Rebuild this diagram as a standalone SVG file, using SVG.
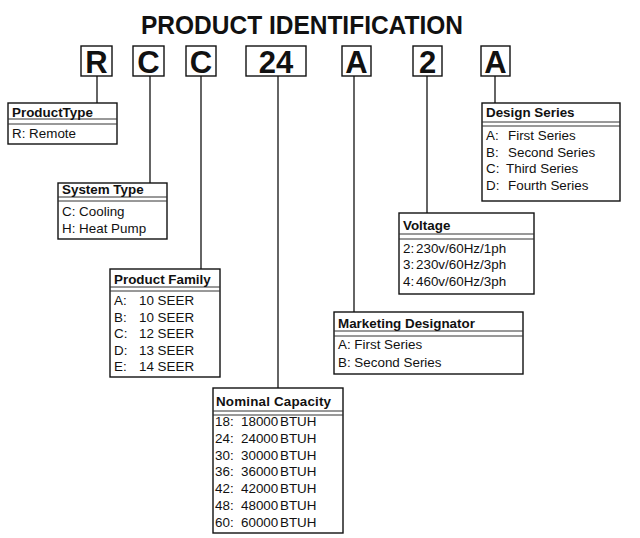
<svg xmlns="http://www.w3.org/2000/svg" width="640" height="538" viewBox="0 0 640 538">
<style>
.box{fill:#fff;stroke:#111;stroke-width:1.4}
.sep{stroke:#333;stroke-width:1}
.con{stroke:#111;stroke-width:1.3;fill:none}
.h{font-family:"Liberation Sans",Arial,sans-serif;font-weight:bold;font-size:13.4px;fill:#111}
.t{font-family:"Liberation Sans",Arial,sans-serif;font-size:13.4px;fill:#111}
.big{font-family:"Liberation Sans",Arial,sans-serif;font-weight:bold;font-size:31px;fill:#111;text-anchor:middle}
.title{font-family:"Liberation Sans",Arial,sans-serif;font-weight:bold;font-size:26px;fill:#111;text-anchor:middle}
</style>
<rect width="640" height="538" fill="#fff"/>
<text class="title" x="302" y="33.5" textLength="322" lengthAdjust="spacingAndGlyphs">PRODUCT IDENTIFICATION</text>

<g id="connectors">
<line class="con" x1="97" y1="76" x2="97" y2="103"/>
<line class="con" x1="150" y1="76" x2="150" y2="183"/>
<line class="con" x1="201" y1="76" x2="201" y2="269"/>
<line class="con" x1="278" y1="76" x2="278" y2="388"/>
<line class="con" x1="354" y1="76" x2="354" y2="312"/>
<line class="con" x1="427" y1="76" x2="427" y2="213"/>
<line class="con" x1="495" y1="76" x2="495" y2="103"/>
</g>

<g id="code-R"><rect class="box" x="81" y="46" width="31" height="30"/><text class="big" x="96.5" y="72.5">R</text></g>
<g id="code-C1"><rect class="box" x="133" y="46" width="31" height="30"/><text class="big" x="148.5" y="72.5">C</text></g>
<g id="code-C2"><rect class="box" x="186" y="46" width="30" height="30"/><text class="big" x="201" y="72.5">C</text></g>
<g id="code-24"><rect class="box" x="246" y="46" width="60" height="30"/><text class="big" x="276" y="72.5">24</text></g>
<g id="code-A1"><rect class="box" x="342" y="46" width="29" height="30"/><text class="big" x="356.5" y="72.5">A</text></g>
<g id="code-2"><rect class="box" x="413" y="46" width="29" height="30"/><text class="big" x="427.5" y="72.5">2</text></g>
<g id="code-A2"><rect class="box" x="481" y="46" width="29" height="30"/><text class="big" x="495.5" y="72.5">A</text></g>

<g id="product-type">
<rect class="box" x="8" y="103" width="109" height="41"/>
<line class="sep" x1="8" y1="119" x2="117" y2="119"/><line class="sep" x1="8" y1="124" x2="117" y2="124"/>
<text class="h" x="12" y="117">ProductType</text>
<text class="t" x="12" y="138">R: Remote</text>
</g>

<g id="system-type">
<rect class="box" x="58" y="183" width="109" height="56"/>
<line class="sep" x1="58" y1="197" x2="167" y2="197"/><line class="sep" x1="58" y1="201" x2="167" y2="201"/>
<text class="h" x="62" y="194">System Type</text>
<text class="t" x="62" y="216">C: Cooling</text>
<text class="t" x="62" y="233">H: Heat Pump</text>
</g>

<g id="product-family">
<rect class="box" x="110" y="269" width="110" height="108"/>
<line class="sep" x1="110" y1="287" x2="220" y2="287"/><line class="sep" x1="110" y1="291" x2="220" y2="291"/>
<text class="h" x="114" y="284">Product Family</text>
<text class="t" y="305"><tspan x="114">A:</tspan><tspan x="139">10 SEER</tspan></text>
<text class="t" y="322"><tspan x="114">B:</tspan><tspan x="139">10 SEER</tspan></text>
<text class="t" y="338"><tspan x="114">C:</tspan><tspan x="139">12 SEER</tspan></text>
<text class="t" y="355"><tspan x="114">D:</tspan><tspan x="139">13 SEER</tspan></text>
<text class="t" y="371"><tspan x="114">E:</tspan><tspan x="139">14 SEER</tspan></text>
</g>

<g id="nominal-capacity">
<rect class="box" x="213" y="388" width="130" height="145"/>
<line class="sep" x1="213" y1="411" x2="343" y2="411"/><line class="sep" x1="213" y1="415" x2="343" y2="415"/>
<text class="h" x="216" y="406" textLength="115">Nominal Capacity</text>
<text class="t" y="426"><tspan x="215">18:</tspan><tspan x="241">18000</tspan><tspan x="280">BTUH</tspan></text>
<text class="t" y="443"><tspan x="215">24:</tspan><tspan x="241">24000</tspan><tspan x="280">BTUH</tspan></text>
<text class="t" y="460"><tspan x="215">30:</tspan><tspan x="241">30000</tspan><tspan x="280">BTUH</tspan></text>
<text class="t" y="476"><tspan x="215">36:</tspan><tspan x="241">36000</tspan><tspan x="280">BTUH</tspan></text>
<text class="t" y="493"><tspan x="215">42:</tspan><tspan x="241">42000</tspan><tspan x="280">BTUH</tspan></text>
<text class="t" y="510"><tspan x="215">48:</tspan><tspan x="241">48000</tspan><tspan x="280">BTUH</tspan></text>
<text class="t" y="527"><tspan x="215">60:</tspan><tspan x="241">60000</tspan><tspan x="280">BTUH</tspan></text>
</g>

<g id="marketing-designator">
<rect class="box" x="334" y="312" width="189" height="62"/>
<line class="sep" x1="334" y1="331" x2="523" y2="331"/><line class="sep" x1="334" y1="336" x2="523" y2="336"/>
<text class="h" x="338" y="328">Marketing Designator</text>
<text class="t" x="338" y="349">A: First Series</text>
<text class="t" x="338" y="367">B: Second Series</text>
</g>

<g id="voltage">
<rect class="box" x="399" y="213" width="135" height="81"/>
<line class="sep" x1="399" y1="234" x2="534" y2="234"/><line class="sep" x1="399" y1="239" x2="534" y2="239"/>
<text class="h" x="403" y="230">Voltage</text>
<text class="t" y="253"><tspan x="403">2:</tspan><tspan x="416">230v/60Hz/1ph</tspan></text>
<text class="t" y="269"><tspan x="403">3:</tspan><tspan x="416">230v/60Hz/3ph</tspan></text>
<text class="t" y="286"><tspan x="403">4:</tspan><tspan x="416">460v/60Hz/3ph</tspan></text>
</g>

<g id="design-series">
<rect class="box" x="482" y="103" width="138" height="98"/>
<line class="sep" x1="482" y1="122" x2="620" y2="122"/><line class="sep" x1="482" y1="126" x2="620" y2="126"/>
<text class="h" x="486" y="117">Design Series</text>
<text class="t" y="140"><tspan x="486">A:</tspan><tspan x="508">First Series</tspan></text>
<text class="t" y="157"><tspan x="486">B:</tspan><tspan x="508">Second Series</tspan></text>
<text class="t" y="173"><tspan x="486">C:</tspan><tspan x="506">Third Series</tspan></text>
<text class="t" y="190"><tspan x="486">D:</tspan><tspan x="508">Fourth Series</tspan></text>
</g>
</svg>
